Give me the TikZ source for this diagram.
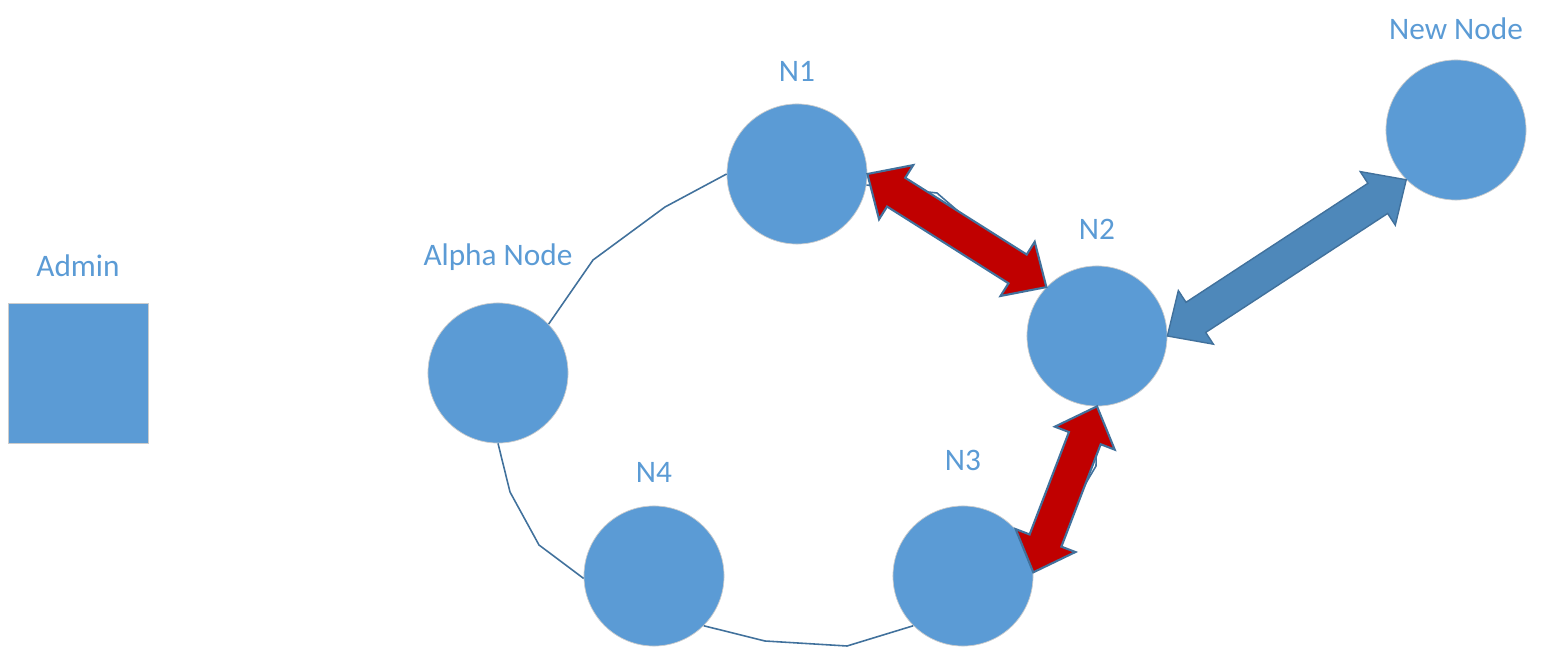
\documentclass[tikz,border=0pt]{standalone}
\usepackage{fontspec}
\setmainfont{Carlito}
\usepackage{tikz}
\usetikzlibrary{calc}

\definecolor{nodeblue}{RGB}{91,155,213}
\definecolor{edgeblue}{RGB}{65,113,156}
\definecolor{linkred}{RGB}{192,0,0}
\definecolor{linkblue}{RGB}{78,136,186}

\tikzset{
  peer/.style={circle, fill=nodeblue, draw=black!20, line width=0.2pt, minimum size=1.4cm, inner sep=0pt},
  adminbox/.style={rectangle, fill=nodeblue, draw=black!20, line width=0.2pt, minimum size=1.4cm, inner sep=0pt},
  tag/.style={text=nodeblue, font=\fontsize{8.9}{10.5}\selectfont, inner sep=0pt},
  ring/.style={draw=edgeblue, line width=0.45pt},
  redlink/.style={fill=linkred, draw=edgeblue, line width=0.6pt},
  bluelink/.style={fill=linkblue, draw=edgeblue, line width=0.4pt},
}

% fat double arrow: style, from, to, half shaft width
\newcommand{\fatarrow}[4]{%
  \coordinate (ha) at ($(#2)!0.34cm!(#3)$);
  \coordinate (hb) at ($(#3)!0.34cm!(#2)$);
  \draw[#1] (#2) -- ($(ha)!0.32cm!90:(#3)$) -- ($(ha)!#4!90:(#3)$)
    -- ($(hb)!#4!-90:(#2)$) -- ($(hb)!0.32cm!-90:(#2)$) -- (#3)
    -- ($(hb)!0.32cm!90:(#2)$) -- ($(hb)!#4!90:(#2)$)
    -- ($(ha)!#4!-90:(#3)$) -- ($(ha)!0.32cm!-90:(#3)$) -- cycle;
}

\begin{document}
\begin{tikzpicture}[x=0.01cm, y=-0.01cm]
    \useasboundingbox (0,0) rectangle (1542,661);

    % Labels
    \node[tag] (admintag) at (78,266) {Admin};
    \node[tag] (alphatag) at (498,257) {Alpha Node};
    \node[tag] (n1tag) at (797,71) {N1};
    \node[tag] (n2tag) at (1097,229) {N2};
    \node[tag] (n3tag) at (963,460) {N3};
    \node[tag] (n4tag) at (654,472) {N4};
    \node[tag] (newtag) at (1456,29) {New Node};

    % Ring of nodes
    \coordinate (r1) at (665,207);
    \coordinate (r2) at (593,260);
    \coordinate (r3) at (510,492);
    \coordinate (r4) at (539,545);
    \coordinate (r5) at (765,641);
    \coordinate (r6) at (847,646);
    \coordinate (r7) at (1096,466);
    \coordinate (r8) at (937,193);
    \node[peer] (alpha) at (498,373) {};
    \node[peer] (n1) at (797,174) {};
    \node[peer] (n2) at (1097,336) {};
    \node[peer] (n3) at (963,576) {};
    \node[peer] (n4) at (654,576) {};
    \node[peer] (newnode) at (1456,130) {};
    \node[adminbox] (admin) at (78,373) {};

    \draw[ring] (n1.west) -- (r1) -- (r2) -- (alpha.44);
    \draw[ring] (alpha.south) -- (r3) -- (r4) -- (n4.182);
    \draw[ring] (n4.-45) -- (r5) -- (r6) -- (n3.-135);
    \draw[ring] (n3.3) -- (r7) -- (n2.south);
    \draw[ring] (n1.-9) -- (r8) -- (n2.136);

    % Links
    \fatarrow{redlink}{n1.east}{n2.136}{0.17cm}
    \fatarrow{redlink}{n2.south}{n3.3}{0.17cm}
    \fatarrow{bluelink}{n2.east}{newnode.225}{0.18cm}

  \end{tikzpicture}
\end{document}
